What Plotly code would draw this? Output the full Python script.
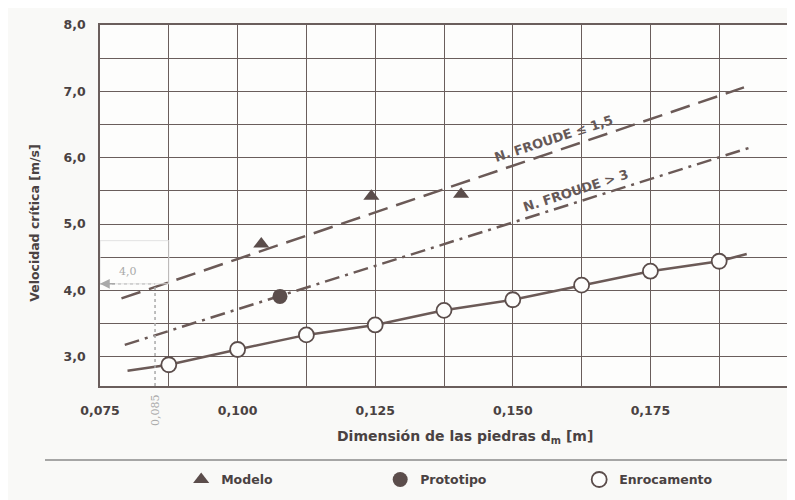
import plotly.graph_objects as go

# ---------------- data ----------------
enroc_d = [0.0875, 0.100, 0.1125, 0.125, 0.1375, 0.150, 0.1625, 0.175, 0.1875]
enroc_v = [2.88, 3.11, 3.33, 3.48, 3.70, 3.86, 4.08, 4.29, 4.44]
enroc_curve_d = [0.0800] + enroc_d + [0.1925]
enroc_curve_v = [2.79] + enroc_v + [4.55]

modelo_d = [0.1043, 0.1243, 0.1406]
modelo_v = [4.70, 5.42, 5.45]

proto_d = [0.1077]
proto_v = [3.91]

froude15_d = [0.0789, 0.1920]
froude15_v = [3.88, 7.06]
froude3_d = [0.0795, 0.1930]
froude3_v = [3.18, 6.15]

froude15_label = "N. FROUDE ≤ 1,5"
froude15_label_d = 0.1575
froude3_label = "N. FROUDE > 3"
froude3_label_d = 0.1615

x_ticks = [0.075, 0.100, 0.125, 0.150, 0.175, 0.200]
x_tick_text = ["0,075", "0,100", "0,125", "0,150", "0,175", "0,200"]
y_ticks = [3.0, 4.0, 5.0, 6.0, 7.0, 8.0]
y_tick_text = ["3,0", "4,0", "5,0", "6,0", "7,0", "8,0"]

ref_d = 0.085
ref_v = 4.1
ref_d_text = "0,085"
ref_v_text = "4,0"

x_range = [0.075, 0.200]
y_range = [2.56, 8.0]

# ---------------- style ----------------
ink = "#5b4d4b"
line_col = "#6b5a57"
grid_col = "#6a5e5c"
text_col = "#4a4242"
faint = "#a9a9a9"
font_fam = "DejaVu Sans"

def interp(xs, ys, x):
    return ys[0] + (ys[1] - ys[0]) * (x - xs[0]) / (xs[1] - xs[0])

fig = go.Figure()

fig.add_trace(go.Scatter(x=froude15_d, y=froude15_v, mode="lines",
                         line=dict(color=line_col, width=2.5, dash="20px,9px"),
                         showlegend=False, hoverinfo="skip"))
fig.add_trace(go.Scatter(x=froude3_d, y=froude3_v, mode="lines",
                         line=dict(color=line_col, width=2.5, dash="15px,6px,3px,6px"),
                         showlegend=False, hoverinfo="skip"))
fig.add_trace(go.Scatter(x=enroc_curve_d, y=enroc_curve_v, mode="lines",
                         line=dict(color=line_col, width=2.5),
                         showlegend=False, hoverinfo="skip"))

fig.add_trace(go.Scatter(x=modelo_d, y=modelo_v, mode="markers", name="Modelo",
                         marker=dict(symbol="triangle-up", size=14, color=ink,
                                     line=dict(width=0))))
fig.add_trace(go.Scatter(x=proto_d, y=proto_v, mode="markers", name="Prototipo",
                         marker=dict(symbol="circle", size=15, color=ink,
                                     line=dict(width=0))))
fig.add_trace(go.Scatter(x=enroc_d, y=enroc_v, mode="markers", name="Enrocamento",
                         marker=dict(symbol="circle", size=15, color="#fdfdfc",
                                     line=dict(width=1.8, color=ink))))

# reference (0,085 ; 4,0) construction
fig.add_shape(type="line", xref="x", yref="y", x0=ref_d, x1=ref_d,
              y0=y_range[0], y1=ref_v, line=dict(color=faint, width=1.5, dash="dot"))
fig.add_shape(type="line", xref="x", yref="y", x0=x_range[0], x1=ref_d,
              y0=ref_v, y1=ref_v, line=dict(color=faint, width=1.5, dash="dot"))
fig.add_shape(type="rect", xref="x", yref="y", x0=x_range[0], x1=x_range[0] + 0.0125,
              y0=ref_v, y1=4.75, line=dict(color="#e2e2e2", width=1))
fig.add_annotation(x=x_range[0], y=ref_v, ax=x_range[0] + 0.003, ay=ref_v,
                   xref="x", yref="y", axref="x", ayref="y", text="",
                   showarrow=True, arrowhead=2, arrowsize=1.3, arrowwidth=1.5,
                   arrowcolor=faint)
fig.add_annotation(x=(x_range[0] + ref_d) / 2, y=ref_v, xref="x", yref="y",
                   text=ref_v_text, showarrow=False, yshift=12,
                   font=dict(family="DejaVu Serif", size=11, color=faint))
fig.add_annotation(x=ref_d, y=0, xref="x", yref="paper", text=ref_d_text,
                   showarrow=False, textangle=-90, yanchor="top", yshift=-6,
                   font=dict(family="DejaVu Serif", size=11, color=faint))

# line labels
fig.add_annotation(x=froude15_label_d, y=interp(froude15_d, froude15_v, froude15_label_d),
                   xref="x", yref="y", text=froude15_label, showarrow=False,
                   textangle=-18, yshift=13,
                   font=dict(family=font_fam, size=13, color="#665958", weight="bold"))
fig.add_annotation(x=froude3_label_d, y=interp(froude3_d, froude3_v, froude3_label_d),
                   xref="x", yref="y", text=froude3_label, showarrow=False,
                   textangle=-18, yshift=12,
                   font=dict(family=font_fam, size=13, color="#665958", weight="bold"))

# axis titles
fig.add_annotation(x=0.5305, y=-0.141, xref="paper", yref="paper",
                   xanchor="center", yanchor="middle",
                   text="Dimensión de las piedras d<sub>m</sub> [m]", showarrow=False,
                   font=dict(family=font_fam, size=14, color=text_col, weight="bold"))
fig.add_annotation(x=-0.0945, y=0.452, xref="paper", yref="paper",
                   xanchor="center", yanchor="middle",
                   text="Velocidad crítica [m/s]", showarrow=False, textangle=-90,
                   font=dict(family=font_fam, size=12.5, color=text_col, weight="bold"))

# separator line above legend
fig.add_shape(type="line", xref="paper", yref="paper", x0=-0.08, x1=1.01,
              y0=-0.205, y1=-0.205, line=dict(color="#555", width=1.2))

fig.update_layout(
    width=787, height=492,
    margin=dict(l=92, r=7, t=17, b=114, autoexpand=False),
    paper_bgcolor="#f9f9f7", plot_bgcolor="#fdfdfc",
    separators=",.",
    font=dict(family=font_fam, color=text_col),
    showlegend=True,
    legend=dict(orientation="h", x=0.118, xanchor="left",
                y=-0.26, yanchor="middle",
                entrywidth=154, entrywidthmode="pixels", bgcolor="rgba(0,0,0,0)",
                font=dict(family=font_fam, size=12.5, color=text_col, weight="bold"),
                itemclick=False),
    xaxis=dict(range=x_range, tickvals=x_ticks, ticktext=x_tick_text,
               showgrid=True, gridcolor=grid_col, gridwidth=1,
               minor=dict(dtick=0.0125, tick0=0.075, showgrid=True, gridcolor=grid_col, gridwidth=1),
               showline=True, linecolor=grid_col, linewidth=1.5, mirror=True,
               zeroline=False, ticks="", ticklabelstandoff=12,
               tickfont=dict(family=font_fam, size=12.5, color=text_col, weight="bold")),
    yaxis=dict(range=y_range, tickvals=y_ticks, ticktext=y_tick_text,
               showgrid=True, gridcolor=grid_col, gridwidth=1,
               minor=dict(dtick=0.5, tick0=3.0, showgrid=True, gridcolor=grid_col, gridwidth=1),
               showline=True, linecolor=grid_col, linewidth=1.5, mirror=True,
               zeroline=False, ticks="", ticklabelstandoff=10,
               tickfont=dict(family=font_fam, size=12.5, color=text_col, weight="bold")),
)

fig.write_html("out.html")
